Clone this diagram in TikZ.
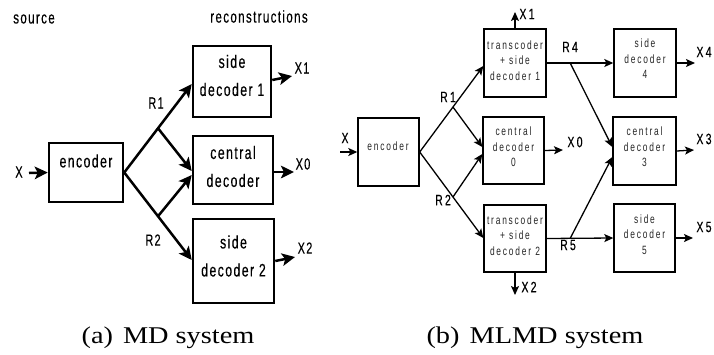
\documentclass[tikz,border=0pt]{standalone}
\usepackage{fontspec}
\usetikzlibrary{arrows.meta,calc}
\newfontfamily\dfl[FakeStretch=0.68,LetterSpace=8,FakeBold=0.25]{Liberation Sans}
\newfontfamily\dfr[FakeStretch=0.70,LetterSpace=15]{Liberation Sans}
\newfontfamily\dfq[FakeStretch=0.70,LetterSpace=15,FakeBold=0.3]{Liberation Sans}
\newfontfamily\capf[FakeStretch=1.18]{Liberation Serif}
\begin{document}
\begin{tikzpicture}[x=1pt,y=-1pt,
 lbox/.style={draw,line width=2.5pt,inner sep=0pt},
 rbox/.style={draw,line width=1.4pt,inner sep=0pt},
 ltxt/.style={font=\dfl\fontsize{18}{28}\selectfont,align=center,inner sep=0pt},
 llab/.style={font=\dfl\fontsize{16}{18}\selectfont,inner sep=0pt},
 slab/.style={font=\dfl\fontsize{17}{18}\selectfont,inner sep=0pt},
 rtxt/.style={font=\dfr\fontsize{12}{15.5}\selectfont,align=center,inner sep=0pt,text=black!85},
 rlab/.style={font=\dfq\fontsize{15}{16}\selectfont,inner sep=0pt},
 larr/.style={line width=2.5pt,-{Stealth[length=13pt,width=12.5pt,inset=3pt]}},
 rarr/.style={line width=1.3pt,-{Stealth[length=9pt,width=8pt,inset=2pt]}},
 captxt/.style={font=\capf\fontsize{24}{28}\selectfont,inner sep=0pt,anchor=base}]
\fill[white] (0,0) rectangle (714,354);
\useasboundingbox (0,0) rectangle (714,354);

% ---------- left panel ----------
\node[slab] (src) at (34,19) {source};
\node[slab] (rec) at (259,16.5) {reconstructions};

\node[lbox,minimum width=74,minimum height=59] (encL) at (86,172.5) {};
\node[lbox,minimum width=78,minimum height=71] (sd1L) at (232,81.5) {};
\node[lbox,minimum width=80,minimum height=68] (cdL) at (233,170) {};
\node[lbox,minimum width=81,minimum height=84] (sd2L) at (233.5,261) {};

\node[ltxt] (encLt) at (86,161) {encoder};
\node[ltxt] (sd1Lt) at (232,75.5) {side\\decoder 1};
\node[ltxt] (cdLt) at (233,166.5) {central\\decoder};
\node[ltxt] (sd2Lt) at (233.5,256) {side\\decoder 2};

\node[llab] (xL) at (19,172) {X};
\node[llab] (r1L) at (156,103) {R1};
\node[llab] (r2L) at (153,240) {R2};
\node[llab] (x1L) at (302,68) {X1};
\node[llab] (x0L) at (303,164) {X0};
\node[llab] (x2L) at (305,248) {X2};

\coordinate (xinL) at (29,173);
\coordinate (t1L) at ($(sd1L.west)+(0,2.5)$);
\coordinate (t2L) at ($(sd2L.west)+(0,-1)$);
\coordinate (tcaL) at ($(cdL.west)+(0,1)$);
\coordinate (tcbL) at ($(cdL.west)+(0,5)$);
\coordinate (jAL) at ($(encL.east)!0.5!(t1L)$);
\coordinate (jBL) at ($(encL.east)!0.5!(t2L)$);
\coordinate (o1L) at (292,76);
\coordinate (o0L) at (294,172);
\coordinate (o2L) at (295,257);

\draw[larr] (xinL) -- (encL.west);
\draw[larr] (encL.east) -- (t1L);
\draw[larr] (encL.east) -- (t2L);
\draw[larr] (jAL) -- (tcaL);
\draw[larr] (jBL) -- (tcbL);
\draw[larr] ($(sd1L.east)+(0,-1.5)$) -- (o1L);
\draw[larr] ($(cdL.east)+(0,2)$) -- (o0L);
\draw[larr] ($(sd2L.east)+(0,0)$) -- (o2L);

% ---------- right panel ----------
\node[rbox,minimum width=61,minimum height=68] (encR) at (388.5,152) {};
\node[rbox,minimum width=62,minimum height=68] (T1) at (515,63) {};
\node[rbox,minimum width=61,minimum height=67] (C0) at (513.5,150.5) {};
\node[rbox,minimum width=62,minimum height=67] (T2) at (515,238.5) {};
\node[rbox,minimum width=62,minimum height=68] (SD4) at (645,63) {};
\node[rbox,minimum width=63,minimum height=68] (C3) at (644.5,151) {};
\node[rbox,minimum width=61,minimum height=68] (SD5) at (644.5,238) {};

\node[rtxt] (encRt) at (388,146) {encoder};
\node[rtxt] (T1t) at (515,60.3) {transcoder\\+ side\\decoder 1};
\node[rtxt] (C0t) at (513.5,146.8) {central\\decoder\\0};
\node[rtxt] (T2t) at (515,235.3) {transcoder\\+ side\\decoder 2};
\node[rtxt] (SD4t) at (645,58.8) {side\\decoder\\4};
\node[rtxt] (C3t) at (644.5,146.8) {central\\decoder\\3};
\node[rtxt] (SD5t) at (644.5,234.3) {side\\decoder\\5};

\node[rlab] (xR) at (345,138) {X};
\node[rlab] (r1R) at (448,97) {R1};
\node[rlab] (r2R) at (443,200) {R2};
\node[rlab] (x1R) at (527,14) {X1};
\node[rlab] (x2R) at (529,287) {X2};
\node[rlab] (x0R) at (575,142) {X0};
\node[rlab] (r4R) at (570,47) {R4};
\node[rlab] (r5R) at (568,245) {R5};
\node[rlab] (x4R) at (704,52) {X4};
\node[rlab] (x3R) at (704,139) {X3};
\node[rlab] (x5R) at (704,227) {X5};

\coordinate (xinR) at (340,152);
\coordinate (t1R) at ($(T1.west)+(0,3)$);
\coordinate (t2R) at ($(T2.west)+(0,-0.5)$);
\coordinate (tcaR) at ($(C0.west)+(0,-3.5)$);
\coordinate (tcbR) at ($(C0.west)+(0,3.5)$);
\coordinate (jAR) at ($(encR.east)!0.523!(t1R)$);
\coordinate (jBR) at ($(encR.east)!0.523!(t2R)$);
\coordinate (jR4) at ($(T1.east)!0.353!(SD4.west)$);
\coordinate (jR5) at ($(T2.east)!0.353!(SD5.west)$);
\coordinate (t3a) at ($(C3.west)+(0,-4)$);
\coordinate (t3b) at ($(C3.west)+(0,6)$);
\coordinate (o1R) at (515,12);
\coordinate (o2R) at (515,295);
\coordinate (o0R) at (563,150);
\coordinate (o4R) at (695,63);
\coordinate (o3R) at (694,150);
\coordinate (o5R) at (693,238);

\draw[rarr] (xinR) -- (encR.west);
\draw[rarr] (encR.east) -- (t1R);
\draw[rarr] (encR.east) -- (t2R);
\draw[rarr] (jAR) -- (tcaR);
\draw[rarr] (jBR) -- (tcbR);
\draw[rarr] (T1.north) -- (o1R);
\draw[rarr] (T2.south) -- (o2R);
\draw[rarr] (C0.east) -- (o0R);
\draw[rarr] (T1.east) -- (SD4.west);
\draw[rarr] (T2.east) -- (SD5.west);
\draw[rarr] (jR4) -- (t3a);
\draw[rarr] (jR5) -- (t3b);
\draw[rarr] (SD4.east) -- (o4R);
\draw[rarr] (C3.east) -- (o3R);
\draw[rarr] (SD5.east) -- (o5R);

% ---------- captions ----------
\node[captxt] (capa) at (168,343) {(a)\hspace{10pt}MD system};
\node[captxt] (capb) at (535,343) {(b)\hspace{10pt}MLMD system};
\end{tikzpicture}
\end{document}
